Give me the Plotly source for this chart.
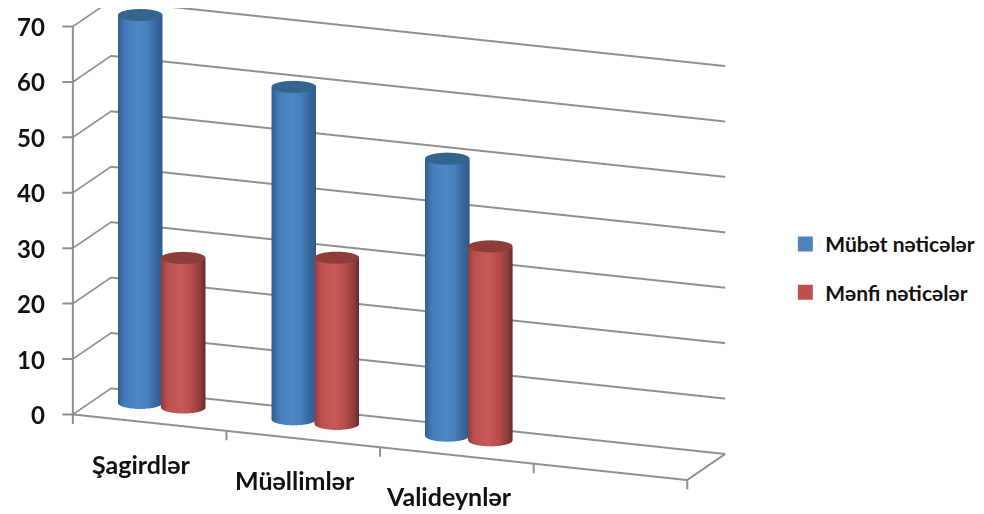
import numpy as np
import plotly.graph_objects as go

categories = ["Şagirdlər", "Müəllimlər", "Valideynlər"]
positive = [70, 60, 50]
negative = [27, 30, 35]
series_names = ["Mübət nəticələr", "Mənfi nəticələr"]
z_ticks = [0, 10, 20, 30, 40, 50, 60, 70]
x_ticks = [0, 1, 2, 3, 4]

GRID = "#8f8f8f"
FONT = "Lato"
INK = "#111111"
BLUE_SCALE = [[0, "#2b5a86"], [0.15, "#38699f"], [0.35, "#4880bf"], [0.55, "#4f86c6"], [0.85, "#447bb8"], [1, "#2f5f90"]]
RED_SCALE = [[0, "#652a2a"], [0.12, "#8f3e3c"], [0.3, "#b54d4b"], [0.55, "#c75b59"], [0.85, "#bb514f"], [1, "#8f3f3e"]]
BLUE_TOP = "#34658f"
RED_TOP = "#8f3d3b"

XMAX, YMAX, ZMAX = 4, 1, 70
RX, RY = 0.135, 0.215
DEPTH = 0.62
SCALE = 2.57
EYE = 1.8
SHIFT = -0.10
theta = np.linspace(0, 2 * np.pi, 73)
LIT = dict(ambient=1, diffuse=0, specular=0, roughness=1, fresnel=0)


def cylinder(cx, h, scale, top):
    x = np.array([cx + RX * np.cos(theta)] * 2)
    y = np.array([DEPTH + RY * np.sin(theta)] * 2)
    z = np.array([np.zeros_like(theta), np.full_like(theta, h)])
    shade = np.array([(np.cos(theta - 0.377) + 1) / 2] * 2)
    side = go.Surface(x=x, y=y, z=z, surfacecolor=1 - shade, colorscale=scale, cmin=0, cmax=1,
                      showscale=False, lighting=LIT, hoverinfo="skip")
    r = np.linspace(0, 1, 2)
    xc = cx + RX * np.outer(r, np.cos(theta))
    yc = DEPTH + RY * np.outer(r, np.sin(theta))
    cap = go.Surface(x=xc, y=yc, z=np.full_like(xc, h), surfacecolor=np.zeros_like(xc),
                     colorscale=[[0, top], [1, top]], showscale=False, lighting=LIT, hoverinfo="skip")
    return [side, cap]


fig = go.Figure()
for i, (p, n) in enumerate(zip(positive, negative)):
    fig.add_traces(cylinder(i + 0.285, p, BLUE_SCALE, BLUE_TOP))
    fig.add_traces(cylinder(i + 0.565, n, RED_SCALE, RED_TOP))

# floor outline and vertical axis edge
fig.add_trace(go.Scatter3d(x=[XMAX, XMAX], y=[0, YMAX], z=[0, 0], mode="lines",
                           line=dict(color=GRID, width=4), showlegend=False, hoverinfo="skip"))
fig.add_trace(go.Scatter3d(x=[0, 0], y=[0, 0], z=[0, ZMAX], mode="lines",
                           line=dict(color=GRID, width=4), showlegend=False, hoverinfo="skip"))

# legend
for name, color, g in zip(series_names, ["#4f81bd", "#c0504d"], ["a", "b"]):
    fig.add_trace(go.Scatter(x=[None], y=[None], mode="markers", name=name, legendgroup=g,
                             marker=dict(symbol="square", size=15, color=color)))

annos = [dict(x=i + 0.5, y=0, z=0, text=c, showarrow=False, xshift=-8, yshift=-41,
              font=dict(family=FONT, size=25, color=INK, weight=700))
         for i, c in enumerate(categories)]
annos += [dict(x=0, y=0, z=v, text=str(v), showarrow=False, xanchor="right", xshift=-26,
               font=dict(family=FONT, size=24, color=INK, weight=700))
          for v in z_ticks]
tick = dict(text="", showarrow=True, arrowhead=0, arrowcolor=GRID, arrowwidth=2, standoff=0)
annos += [dict(x=0, y=0, z=v, ax=-12, ay=0, **tick) for v in z_ticks]
annos += [dict(x=v, y=0, z=0, ax=0, ay=11, **tick) for v in x_ticks]


def axis(**kw):
    return dict(showbackground=False, showspikes=False, title=dict(text=""), zeroline=False,
                showticklabels=False, ticks="", **kw)


fig.update_layout(
    width=984, height=514, margin=dict(l=0, r=0, t=0, b=0),
    paper_bgcolor="white", plot_bgcolor="white",
    xaxis=dict(visible=False), yaxis=dict(visible=False),
    legend=dict(x=0.79, y=0.58, xanchor="left", yanchor="top", tracegroupgap=18, itemwidth=30,
                font=dict(family=FONT, size=21, color=INK, weight=700)),
    scene=dict(
        domain=dict(x=[0, 0.795], y=[0, 1]),
        aspectmode="manual", aspectratio=dict(x=1 * SCALE, y=0.157 * SCALE, z=0.61 * SCALE),
        camera=dict(projection=dict(type="orthographic"),
                    eye=dict(x=0.354 * EYE, y=-0.895 * EYE, z=0.27 * EYE + SHIFT),
                    up=dict(x=0, y=0, z=1), center=dict(x=0, y=0, z=SHIFT)),
        xaxis=axis(range=[0, XMAX], showgrid=False, showline=True, linecolor=GRID, linewidth=4),
        yaxis=axis(range=[0, YMAX], showgrid=False, showline=True, linecolor=GRID, linewidth=4),
        zaxis=axis(range=[0, ZMAX], tickvals=z_ticks, showgrid=True, gridcolor=GRID, gridwidth=4,
                   showline=False),
        annotations=annos,
    ),
)
fig.write_html("out.html")
